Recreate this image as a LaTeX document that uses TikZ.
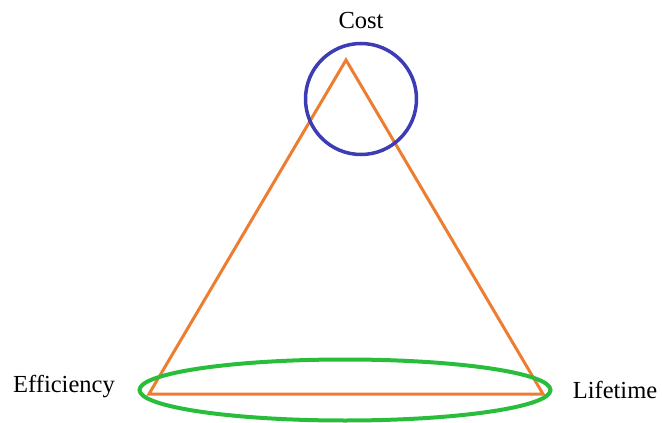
\documentclass[tikz,border=0pt]{standalone}
\usepackage{fontspec}
\setmainfont{Liberation Serif}
\usetikzlibrary{shapes.geometric, positioning}

\definecolor{triorange}{RGB}{237,125,49}
\definecolor{costblue}{RGB}{60,60,180}
\definecolor{basegreen}{RGB}{40,190,60}

\tikzset{
  lbl/.style={font=\fontsize{24.5}{29}\selectfont, text=black, inner sep=0pt},
  tri/.style={triorange, line width=3pt, line join=miter},
}

\begin{document}
\begin{tikzpicture}[x=1pt, y=-1pt]
  \useasboundingbox (0,0) rectangle (662,423);

  % === TRIANGLE ===
  \coordinate (top) at (346,60);
  \coordinate (bl) at (149,394);
  \coordinate (br) at (543,394);
  \draw[tri] (top) -- (bl) -- (br) -- cycle;

  % Cercle (cout) et ellipse (base)
  \node[circle, draw=costblue, line width=3.5pt, minimum size=111pt, inner sep=0pt] (costring) at (361,99) {};
  \node[ellipse, draw=basegreen, line width=4pt, minimum width=411pt, minimum height=61pt, inner sep=0pt] (basering) at (345,390) {};

  % Labels
  \node[lbl] (cost) at (361,21) {Cost};
  \node[lbl] (eff) at (64,387) {Efficiency};
  \node[lbl] (life) at (615,390) {Lifetime};
\end{tikzpicture}
\end{document}
